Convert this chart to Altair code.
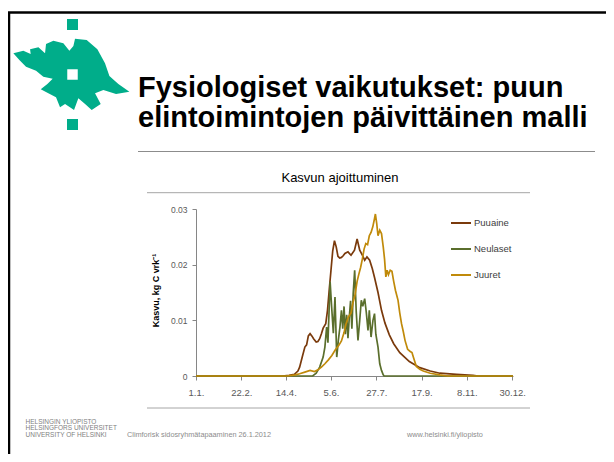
import altair as alt
import pandas as pd

# ---------------- data ----------------
series_names = ["Puuaine", "Neulaset", "Juuret"]
series_colors = ["#7a3a0c", "#5a6e2c", "#c08a0a"]

puu_day = [1, 100, 108, 114, 118, 120, 123, 126, 128, 130, 132, 134, 136, 139, 141, 143, 145, 147,
           150, 152, 154, 156, 158, 160, 162, 164, 166, 168, 170, 172, 175.5, 179, 183, 186, 189,
           192, 194.7, 197.3, 200.4, 203.4, 206, 210, 214, 218, 223, 228, 235, 246, 258, 270, 281,
           300, 319, 325, 365]
puu_val = [0, 0, 0.0001, 0.0003, 0.0009, 0.0016, 0.0034, 0.0052, 0.0056, 0.0072, 0.0076, 0.0072,
           0.0067, 0.0061, 0.0062, 0.0067, 0.0076, 0.0086, 0.0094, 0.0118, 0.0155, 0.019, 0.0225,
           0.0243, 0.0232, 0.0215, 0.0212, 0.0213, 0.0216, 0.022, 0.0223, 0.0217, 0.0226, 0.0246,
           0.0226, 0.0217, 0.0208, 0.0214, 0.0208, 0.0193, 0.0177, 0.015, 0.0118, 0.0095, 0.0074,
           0.0058, 0.0042, 0.0026, 0.0015, 0.0009, 0.0005, 0.0003, 0.0001, 0, 0]

neu_day = [1, 135, 139, 143, 147, 149, 151, 152.5, 155, 157, 158.7, 160.6, 162.6, 164.5, 166.3,
           168, 169.5, 171, 172.5, 174, 175.5, 177, 178.5, 180, 181.5, 183.2, 185, 187, 189, 190.8,
           192.5, 194.7, 196.5, 198.5, 200, 202, 204.2, 206, 207.5, 210, 212, 214, 216, 217, 365]
neu_val = [0, 0, 0.0005, 0.0016, 0.0034, 0.0052, 0.0088, 0.006, 0.0169, 0.0118, 0.0077, 0.0142,
           0.0034, 0.0065, 0.0088, 0.0118, 0.0085, 0.0125, 0.0075, 0.011, 0.0068, 0.0105, 0.0135,
           0.0085, 0.0148, 0.019, 0.0115, 0.0064, 0.01, 0.0136, 0.0125, 0.0139, 0.0115, 0.0082,
           0.0118, 0.007, 0.01, 0.0112, 0.0075, 0.0052, 0.0022, 0.001, 0.0002, 0, 0]

juu_day = [1, 105, 115, 120, 126, 132, 137, 141, 145, 149, 153, 157, 161, 165, 168, 171, 173, 176,
           179, 181, 183.5, 186, 188, 190, 192, 194, 196, 198, 200, 202, 204, 206, 207, 208.5, 210,
           212, 214, 216, 217.5, 219, 220.5, 222, 224, 226, 228, 230, 233, 235, 237, 239, 241, 244,
           247, 249, 251, 254, 258, 262, 270, 281, 290, 365]
juu_val = [0, 0, 0.0002, 0.0004, 0.0007, 0.001, 0.0008, 0.0011, 0.0016, 0.0022, 0.0029, 0.0037,
           0.0047, 0.0055, 0.0063, 0.0078, 0.0092, 0.0106, 0.0113, 0.013, 0.0145, 0.017, 0.0183,
           0.0195, 0.021, 0.0228, 0.0238, 0.0236, 0.0252, 0.0258, 0.0268, 0.0283, 0.0291, 0.0274,
           0.0252, 0.0262, 0.0256, 0.0232, 0.021, 0.0178, 0.019, 0.0182, 0.019, 0.0188, 0.017,
           0.0154, 0.0136, 0.0113, 0.0094, 0.008, 0.0064, 0.0048, 0.0044, 0.0042, 0.0032, 0.0017,
           0.0012, 0.0009, 0.0005, 0.0002, 0, 0]

x_tick_days = [1, 53, 104, 156, 208, 260, 312, 364]
x_tick_labels = ["1.1.", "22.2.", "14.4.", "5.6.", "27.7.", "17.9.", "8.11.", "30.12."]
y_tick_values = [0, 0.01, 0.02, 0.03]
y_tick_labels = ["0", "0.01", "0.02", "0.03"]

title_lines = ["Fysiologiset vaikutukset: puun", "elintoimintojen päivittäinen malli"]
subtitle = "Kasvun ajoittuminen"
y_title = "Kasvu, kg C vrk⁻¹"
footer_left = ["HELSINGIN YLIOPISTO", "HELSINGFORS UNIVERSITET", "UNIVERSITY OF HELSINKI"]
footer_mid = "Climforisk sidosryhmätapaaminen 26.1.2012"
footer_right = "www.helsinki.fi/yliopisto"

# ---------------- layout ----------------
W, H = 317, 167
PAD_L, PAD_T = 188, 201
CANVAS_W, CANVAS_H = 598, 446
OX, OY = 8 + PAD_L, 8 + PAD_T  # page coords of plot origin


def px(X):
    return X - OX


def py(Y):
    return Y - OY


FONT = "Liberation Sans"

rows = []
for name, days, vals in [("Puuaine", puu_day, puu_val), ("Neulaset", neu_day, neu_val),
                         ("Juuret", juu_day, juu_val)]:
    for d, v in zip(days, vals):
        rows.append({"series": name, "day": d, "value": v})
df = pd.DataFrame(rows)


def label_expr(values, labels):
    expr = "''"
    for v, l in reversed(list(zip(values, labels))):
        expr = f"datum.value == {v} ? '{l}' : ({expr})"
    return expr


x_enc = alt.X("day:Q", scale=alt.Scale(domain=[1, 365], nice=False, zero=False),
              axis=alt.Axis(values=x_tick_days, labelExpr=label_expr(x_tick_days, x_tick_labels),
                            title=None, grid=False, domainColor="#868686", tickColor="#868686",
                            tickSize=4, labelFont=FONT, labelFontSize=9.5, labelColor="#595959",
                            labelBaseline="middle", labelPadding=12, labelOverlap=False,
                            labelFlush=False))
y_enc = alt.Y("value:Q", scale=alt.Scale(domain=[0, 0.03], nice=False),
              axis=alt.Axis(values=y_tick_values, labelExpr=label_expr(y_tick_values, y_tick_labels),
                            title=y_title, titleFont=FONT, titleFontSize=9, titleFontWeight="bold",
                            titleColor="#000000", titleAngle=270, titleX=-41, titleY=81,
                            titleAlign="center", titleBaseline="middle",
                            grid=False, domainColor="#868686", tickColor="#868686", tickSize=4,
                            labelFont=FONT, labelFontSize=8.5, labelColor="#595959", labelPadding=5))
color_enc = alt.Color("series:N", scale=alt.Scale(domain=series_names, range=series_colors),
                      sort=series_names,
                      legend=alt.Legend(title=None, orient="none", legendX=254, legendY=3,
                                        symbolType="stroke", symbolSize=400, symbolStrokeWidth=2,
                                        labelFont=FONT, labelFontSize=9.5, labelColor="#404040",
                                        labelOffset=2, rowPadding=10))

lines = [
    alt.Chart(df).transform_filter(alt.datum.series == name)
    .mark_line(strokeWidth=1.7, clip=False)
    .encode(x=x_enc, y=y_enc, color=color_enc, order="day:Q")
    for name in series_names
]


def text_layer(texts, Xs, Ys, size, weight="normal", color="#000000", align="left",
               baseline="alphabetic"):
    d = pd.DataFrame({"t": texts, "x": [px(X) for X in Xs], "y": [py(Y) for Y in Ys]})
    return alt.Chart(d).mark_text(font=FONT, fontSize=size, fontWeight=weight, color=color,
                                  align=align, baseline=baseline).encode(
        x=alt.X("x:Q", scale=None), y=alt.Y("y:Q", scale=None), text="t:N")


def rule(X1, X2, Y1, Y2, color, width):
    return alt.Chart(pd.DataFrame({"a": [0]})).mark_rule(color=color, strokeWidth=width).encode(
        x=alt.value(px(X1)), x2=alt.value(px(X2)), y=alt.value(py(Y1)), y2=alt.value(py(Y2)))


# decorative slide elements
frame_top = rule(8, 606, 12.5, 12.5, "#000000", 2.5)
frame_left = rule(9, 9, 12, 454, "#000000", 2.5)
title_rule = rule(138, 595, 151.5, 151.5, "#8c8c8c", 1)
box_top = rule(147, 530, 192.7, 192.7, "#a6a6a6", 1)
box_bottom = rule(147, 530, 408, 408, "#a6a6a6", 1)

titles = text_layer(title_lines, [138, 138], [96.5, 127], 29, weight="bold")
sub = text_layer([subtitle], [340], [182], 13, align="center")
foot_l = text_layer(footer_left, [25.5] * 3, [421.7, 428.4, 434.9], 6.5, color="#7f7f7f",
                    baseline="middle")
foot_m = text_layer([footer_mid, footer_right], [127, 407], [434.9, 434.9], 7.3, color="#8c8c8c",
                    baseline="middle")

# logo (Helsinki flame) approximated by a custom symbol path
flame_pts = [(10, 130), (40, 122), (62, 132), (60, 118), (85, 112), (105, 130), (108, 102),
             (130, 92), (160, 100), (178, 122), (190, 108), (195, 86), (230, 90), (262, 118),
             (285, 160), (298, 198), (325, 222), (358, 245), (318, 252), (280, 240), (255, 250),
             (272, 282), (245, 300), (225, 282), (205, 265), (192, 300), (165, 282), (150, 292),
             (138, 262), (112, 248), (92, 238), (112, 222), (128, 206), (100, 200), (78, 182),
             (48, 170), (28, 150)]
flame_path = "M" + " L".join(f"{(x - 185) / 175:.3f},{(y - 192) / 175:.3f}" for x, y in flame_pts) + " Z"
LOGO = "#00ad8a"
flame = alt.Chart(pd.DataFrame({"a": [0]})).mark_point(
    shape=flame_path, filled=True, fill=LOGO, strokeWidth=0, opacity=1, size=13611).encode(
    x=alt.value(px(71.7)), y=alt.value(py(74)))
sq = pd.DataFrame({"x": [px(72.5), px(72.5)], "y": [py(24.5), py(124.5)]})
squares = alt.Chart(sq).mark_square(filled=True, color=LOGO, size=121, opacity=1).encode(
    x=alt.X("x:Q", scale=None), y=alt.Y("y:Q", scale=None))
white_sq = alt.Chart(pd.DataFrame({"a": [0]})).mark_square(
    filled=True, color="#ffffff", size=110, opacity=1).encode(
    x=alt.value(px(72.5)), y=alt.value(py(74.5)))

chart = alt.layer(
    frame_top, frame_left, title_rule, box_top, box_bottom, titles, sub, foot_l, foot_m,
    flame, squares, white_sq, *lines
).resolve_scale(x="shared", y="shared").properties(
    width=W, height=H,
    autosize=alt.AutoSizeParams(type="none"),
    padding={"left": PAD_L, "top": PAD_T, "right": CANVAS_W - PAD_L - W,
             "bottom": CANVAS_H - PAD_T - H},
    background="#ffffff",
).configure_view(stroke=None)

chart.save("out.html", embed_options={"renderer": "svg", "actions": False})
